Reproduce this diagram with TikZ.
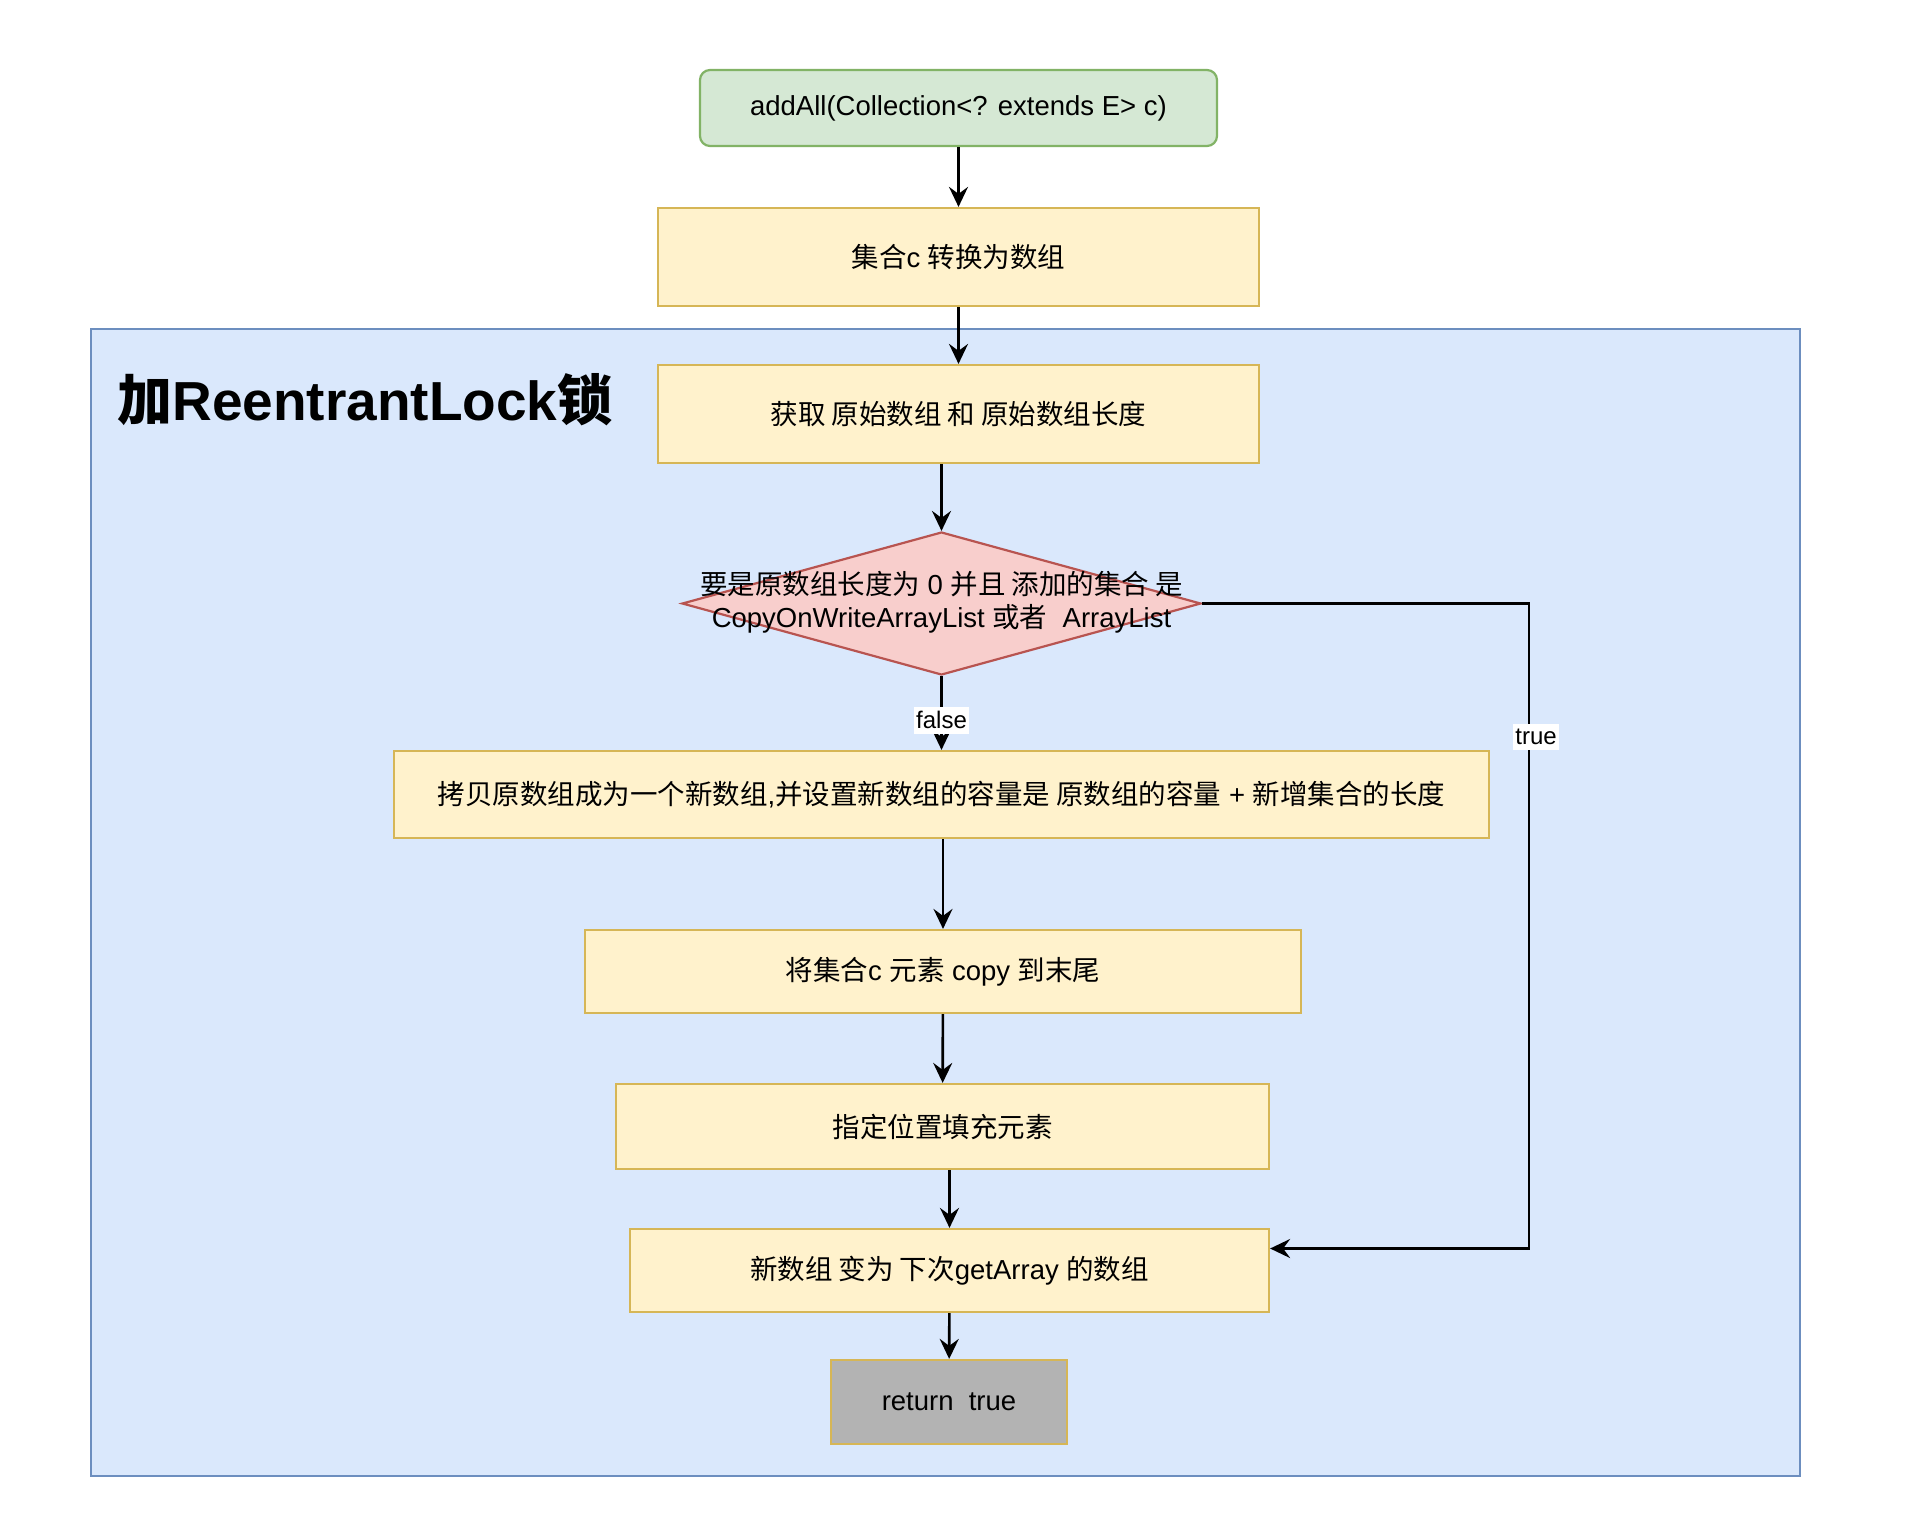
\documentclass[tikz,border=0pt]{standalone}
\usepackage{fontspec}
\setmainfont{Liberation Sans}
\newfontfamily\cjk{Noto Sans CJK SC}
\newcommand\zh[1]{{\cjk #1}}
\usetikzlibrary{shapes.geometric,arrows.meta,calc}

\definecolor{grnfill}{HTML}{D5E8D4}
\definecolor{grndraw}{HTML}{82B366}
\definecolor{yelfill}{HTML}{FFF2CC}
\definecolor{yeldraw}{HTML}{D6B656}
\definecolor{redfill}{HTML}{F8CECC}
\definecolor{reddraw}{HTML}{B85450}
\definecolor{bluefill}{HTML}{DAE8FC}
\definecolor{bluedraw}{HTML}{6C8EBF}
\definecolor{retfill}{HTML}{B3B3B3}

\tikzset{
  base/.style={draw, line width=1.1pt, inner sep=0pt, align=center,
               font=\fontsize{13.75}{16.5}\selectfont},
  stepbox/.style={base, fill=yelfill, draw=yeldraw},
  flow/.style={-{Stealth[length=10pt,width=9.5pt,inset=3.5pt]}, line width=1.3pt},
  lbl/.style={fill=white, inner xsep=1.2pt, inner ysep=2.5pt, font=\fontsize{12}{14}\selectfont},
}

\begin{document}
\begin{tikzpicture}[x=0.5pt,y=-0.5pt]
\useasboundingbox (0,0) rectangle (1906,1532);
\fill[white] (0,0) rectangle (1906,1532);

% lock region
\draw[draw=bluedraw, fill=bluefill, line width=1.1pt] (91,329) rectangle (1800,1476);
\node[anchor=west, inner sep=0pt, font=\bfseries\fontsize{27.5}{30}\selectfont] (locktitle) at (117,400)
  {\zh{加}ReentrantLock\zh{锁}};

% steps
\node[base, fill=grnfill, draw=grndraw, rounded corners=5pt,
      minimum width=258.5pt, minimum height=38pt] (start) at (958.5,108)
  {addAll(Collection<? extends E> c)};
\node[stepbox, minimum width=300.5pt, minimum height=49pt] (conv) at (958.5,257)
  {\zh{集合}c \zh{转换为数组}};
\node[stepbox, minimum width=300.5pt, minimum height=49pt] (get) at (958.5,414)
  {\zh{获取 原始数组 和 原始数组长度}};
\node[diamond, draw=reddraw, fill=redfill, line width=1.1pt, inner sep=0pt,
      minimum width=259.5pt, minimum height=71.5pt] (cond) at (941.5,603.5) {};
\node[align=center, inner sep=0pt, font=\fontsize{13.75}{16.5}\selectfont] (condtext) at (941.5,602)
  {\zh{要是原数组长度为} 0 \zh{并且 添加的集合 是}\\CopyOnWriteArrayList \zh{或者}\ \ ArrayList};
\node[stepbox, minimum width=547.5pt, minimum height=43.5pt] (copy) at (941.5,794.5)
  {\zh{拷贝原数组成为一个新数组},\zh{并设置新数组的容量是 原数组的容量} + \zh{新增集合的长度}};
\node[stepbox, minimum width=358pt, minimum height=41.5pt] (tail) at (943,971.5)
  {\zh{将集合}c \zh{元素} copy \zh{到末尾}};
\node[stepbox, minimum width=326.5pt, minimum height=42.5pt] (fill) at (942.5,1126.5)
  {\zh{指定位置填充元素}};
\node[stepbox, minimum width=319.5pt, minimum height=41.5pt] (swap) at (949.5,1270.5)
  {\zh{新数组 变为 下次}getArray \zh{的数组}};
\node[base, fill=retfill, draw=yeldraw, minimum width=118pt, minimum height=42pt] (ret) at (949,1402)
  {return\ \ true};

% connectors
\draw[flow] (start) -- (conv);
\draw[flow] (conv) -- (get);
\draw[flow] (get.south -| cond.north) -- (cond.north);
\draw[flow] (cond.south) -- (copy.north -| cond.south)
  node[lbl, pos=0.6] (falselbl) {false};
\draw[flow] (copy.south -| tail.north) -- (tail.north);
\draw[flow] (tail) -- (fill);
\draw[flow] (fill.south -| swap.north) -- (swap.north);
\draw[flow] (swap) -- (ret);

\coordinate (turn) at (1529,603.5);
\coordinate (entry) at ($(swap.east)+(0,-22)$);
\draw[flow] (cond.east) -- (turn) |- (entry);
\node[lbl] (truelbl) at (1536,737) {true};
\end{tikzpicture}
\end{document}
